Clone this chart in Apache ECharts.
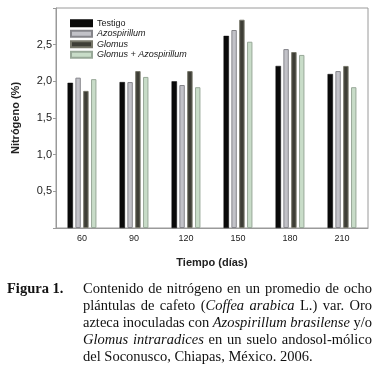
<!DOCTYPE html>
<html>
<head>
<meta charset="utf-8">
<script src="https://cdn.jsdelivr.net/npm/echarts@6/dist/echarts.min.js"></script>
<style>
  html, body { margin: 0; padding: 0; background: #fff; }
  #chart { width: 384px; height: 368px; }
</style>
</head>
<body>
<div id="chart"></div>
<script>
const categories = ['60', '90', '120', '150', '180', '210']
const testigo = [1.98, 1.99, 2.00, 2.62, 2.21, 2.10]
const azospirillum = [2.05, 1.99, 1.95, 2.70, 2.44, 2.14]
const glomus = [1.87, 2.14, 2.14, 2.84, 2.40, 2.21]
const glomusAzo = [2.03, 2.06, 1.92, 2.54, 2.36, 1.92]
const seriesNames = ['Testigo', 'Azospirillum', 'Glomus', 'Glomus + Azospirillum']

// caption lines: each word is a list of [text, italic]
const captionLines = [
  [[['Contenido', 0]], [['de', 0]], [['nitrógeno', 0]], [['en', 0]], [['un', 0]], [['promedio', 0]], [['de', 0]], [['ocho', 0]]],
  [[['plántulas', 0]], [['de', 0]], [['cafeto', 0]], [['(', 0], ['Coffea', 1]], [['arabica', 1]], [['L.)', 0]], [['var.', 0]], [['Oro', 0]]],
  [[['azteca', 0]], [['inoculadas', 0]], [['con', 0]], [['Azospirillum', 1]], [['brasilense', 1]], [['y/o', 0]]],
  [[['Glomus', 1]], [['intraradices', 1]], [['en', 0]], [['un', 0]], [['suelo', 0]], [['andosol-mólico', 0]]],
  [[['del', 0]], [['Soconusco,', 0]], [['Chiapas,', 0]], [['México.', 0]], [['2006.', 0]]],
]

const chart = echarts.init(document.getElementById('chart'))

const serif = '"Liberation Serif", "DejaVu Serif", serif'
const capSize = 14.5
const capLeft = 83
const capRight = 372
const capTop = 289.5
const capLineH = 16.9

const ctx = document.createElement('canvas').getContext('2d')
function measure(text, italic) {
  ctx.font = (italic ? 'italic ' : '') + capSize + 'px ' + serif
  return ctx.measureText(text).width
}

// justified caption, one text element per word piece
function captionGraphics() {
  const out = []
  captionLines.forEach((words, li) => {
    const widths = words.map((w) => w.reduce((s, seg) => s + measure(seg[0], seg[1]), 0))
    const total = widths.reduce((a, b) => a + b, 0)
    const isLast = li === captionLines.length - 1
    const gap = isLast ? measure(' ', 0) : (capRight - capLeft - total) / (words.length - 1)
    let x = capLeft
    words.forEach((w, wi) => {
      let sx = x
      w.forEach((seg) => {
        out.push({
          type: 'text',
          x: sx,
          y: capTop + li * capLineH,
          style: {
            text: seg[0],
            font: (seg[1] ? 'italic ' : '') + capSize + 'px ' + serif,
            fill: '#111',
            verticalAlign: 'middle',
          },
        })
        sx += measure(seg[0], seg[1])
      })
      x += widths[wi] + gap
    })
  })
  out.push({
    type: 'text',
    x: 7,
    y: capTop,
    style: { text: 'Figura 1.', font: 'bold ' + capSize + 'px ' + serif, fill: '#111', verticalAlign: 'middle' },
  })
  return out
}

const sans = '"Liberation Sans", Arial, sans-serif'
const styles = [
  { color: '#0a0a0a', borderColor: '#0a0a0a', borderWidth: 0.5 },
  { color: '#c2c2c8', borderColor: '#85858a', borderWidth: 1 },
  { color: '#3e3e36', borderColor: '#77776a', borderWidth: 1 },
  { color: '#c8dcc8', borderColor: '#98a898', borderWidth: 1 },
]
const data = [testigo, azospirillum, glomus, glomusAzo]

chart.setOption({
  backgroundColor: '#fff',
  animation: false,
  grid: { left: 56, right: 16, top: 8, bottom: 140, show: true, borderColor: '#9a9a9a', borderWidth: 1 },
  legend: {
    orient: 'vertical',
    left: 70,
    top: 18.3,
    padding: 0,
    itemWidth: 21,
    itemHeight: 6,
    itemGap: 0.5,
    icon: 'rect',
    data: seriesNames,
    formatter: (n) => (n === 'Testigo' ? n : '{i|' + n + '}'),
    textStyle: {
      fontFamily: sans,
      fontSize: 9,
      lineHeight: 10,
      color: '#1a1a1a',
      rich: { i: { fontStyle: 'italic', fontFamily: sans, fontSize: 9, lineHeight: 10, color: '#1a1a1a' } },
    },
  },
  xAxis: {
    type: 'category',
    data: categories,
    name: 'Tiempo (días)',
    nameLocation: 'middle',
    nameGap: 29,
    nameTextStyle: { fontFamily: sans, fontSize: 11, fontWeight: 'bold', color: '#222' },
    axisLine: { lineStyle: { color: '#9a9a9a' } },
    axisTick: { show: false },
    axisLabel: { fontFamily: sans, fontSize: 9, color: '#222', margin: 6 },
  },
  yAxis: {
    type: 'value',
    min: 0,
    max: 3,
    interval: 0.5,
    name: 'Nitrógeno (%)',
    nameLocation: 'middle',
    nameGap: 35,
    nameTextStyle: { fontFamily: sans, fontSize: 11, fontWeight: 'bold', color: '#222' },
    splitLine: { show: false },
    axisLine: { show: true, lineStyle: { color: '#9a9a9a' } },
    axisTick: { show: true, length: 3, lineStyle: { color: '#9a9a9a' } },
    axisLabel: {
      fontFamily: sans,
      fontSize: 11,
      color: '#222',
      margin: 4,
      formatter: (v) => (v === 0 || v === 3 ? '' : v.toFixed(1).replace('.', ',')),
    },
  },
  series: seriesNames.map((name, i) => ({
    name,
    type: 'bar',
    barWidth: 5.4,
    barGap: '45%',
    itemStyle: styles[i],
    data: data[i],
  })),
  graphic: captionGraphics(),
})
</script>
</body>
</html>
